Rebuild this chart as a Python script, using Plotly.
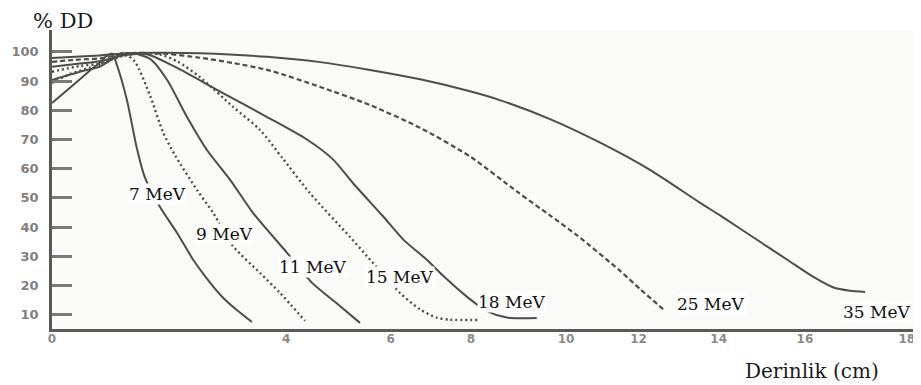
import plotly.graph_objects as go

# ---- data (depth in cm, % depth dose) ----
x_7 = [0, 0.38, 0.80, 1.01, 1.15, 1.27, 1.37, 1.58, 1.79, 1.96, 2.28, 2.64, 2.98, 3.34, 3.61, 3.90, 4.22]
y_7 = [82.5, 87.7, 93.6, 96.4, 98.6, 99.4, 95.5, 83.6, 67.1, 57.0, 46.9, 38.0, 28.8, 20.9, 15.8, 11.6, 7.5]

x_9 = [0, 0.38, 0.80, 1.01, 1.30, 1.50, 1.75, 2.07, 2.34, 2.60, 3.06, 3.40, 3.82, 4.39, 4.81, 5.34]
y_9 = [89.4, 92.4, 94.6, 95.6, 98.4, 99.6, 96.6, 85.0, 72.6, 64.5, 52.7, 44.9, 33.5, 24.3, 17.5, 7.9]

x_11 = [0, 0.59, 1.01, 1.35, 1.65, 2.07, 2.43, 2.85, 3.27, 3.76, 4.24, 4.96, 5.49, 5.97, 6.50]
y_11 = [90.4, 93.2, 95.0, 98.2, 99.6, 97.6, 90.4, 77.7, 66.4, 56.2, 44.9, 31.2, 20.9, 14.4, 7.2]

x_15 = [0, 0.59, 1.01, 1.45, 1.90, 2.30, 2.64, 3.12, 3.82, 4.39, 4.87, 5.44, 6.29, 6.65, 7.34, 7.77, 8.12, 8.40, 9.03]
y_15 = [93.2, 95.2, 96.0, 98.4, 99.6, 99.0, 96.8, 91.4, 81.2, 73.3, 63.5, 51.7, 36.6, 30.0, 17.5, 11.8, 9.0, 8.3, 8.2]

x_18 = [0, 0.59, 1.01, 1.50, 2.00, 2.70, 3.48, 4.54, 5.38, 5.93, 6.35, 6.98, 7.41, 7.91, 8.25, 8.76, 9.18, 9.60, 10.23]
y_18 = [94.9, 96.0, 96.8, 98.8, 99.2, 94.0, 87.0, 77.7, 70.0, 63.2, 55.1, 43.8, 35.8, 28.8, 23.4, 16.1, 11.2, 9.0, 8.9]

x_25 = [0, 0.59, 1.01, 1.65, 2.43, 3.12, 3.82, 4.60, 5.66, 6.71, 7.77, 8.82, 9.81, 10.51, 11.08, 11.99, 12.41, 12.94]
y_25 = [96.6, 97.4, 97.8, 99.6, 99.3, 98.0, 96.2, 93.6, 88.0, 81.8, 74.0, 64.2, 52.2, 44.0, 37.2, 25.0, 18.8, 11.3]

x_35 = [0, 0.59, 1.01, 1.65, 2.40, 3.12, 4.54, 5.66, 6.65, 7.77, 8.82, 9.45, 10.51, 11.56, 12.62, 13.67, 14.10, 14.79, 15.51, 16.06, 16.48, 16.84, 17.16]
y_35 = [97.9, 98.4, 98.8, 99.6, 99.7, 99.5, 98.3, 96.5, 94.0, 90.6, 86.5, 83.5, 77.0, 69.0, 59.6, 48.4, 44.0, 36.6, 28.9, 23.0, 19.4, 18.2, 17.8]

energy_labels = ["7 MeV", "9 MeV", "11 MeV", "15 MeV", "18 MeV", "25 MeV", "35 MeV"]
label_x = [2.22, 3.65, 5.51, 7.34, 9.71, 13.91, 17.41]
label_y = [51.4, 37.7, 26.4, 23.0, 14.4, 13.7, 11.0]

y_tick_values = [10, 20, 30, 40, 50, 60, 70, 80, 90, 100]
x_tick_labels = ["0", "4", "6", "8", "10", "12", "14", "16", "18"]
x_tick_positions = [0, 4.94, 7.15, 8.84, 10.85, 12.38, 14.07, 15.89, 18.04]

series = [
    (x_7, y_7, "solid", 2.0),
    (x_9, y_9, "2px,3px", 2.4),
    (x_11, y_11, "solid", 2.0),
    (x_15, y_15, "2px,3px", 2.4),
    (x_18, y_18, "solid", 2.0),
    (x_25, y_25, "5px,3px", 2.2),
    (x_35, y_35, "solid", 2.0),
]

fig = go.Figure()
for (xs, ys, dash, w), name in zip(series, energy_labels):
    fig.add_trace(go.Scatter(
        x=xs, y=ys, mode="lines", name=name,
        line=dict(color="#4d4d4d", width=w, dash=dash, shape="spline", smoothing=0.7),
        showlegend=False, hoverinfo="skip",
    ))

for txt, lx, ly in zip(energy_labels, label_x, label_y):
    fig.add_annotation(
        x=lx, y=ly, xref="x", yref="y", text=txt, showarrow=False,
        font=dict(family="DejaVu Serif", size=17, color="#111"),
        bgcolor="#ffffff", borderpad=0,
    )

# page offset (browser body margin) and figure geometry
OFF = 8
W, H = 913, 377
ML, MR, MT, MB = 44, 0, 22, 56
pw, ph = W - ML - MR, H - MT - MB

fig.add_annotation(
    x=63, y=8, xref="paper", yref="paper", text="% DD", showarrow=False,
    xanchor="center", yanchor="top", borderpad=0,
    font=dict(family="DejaVu Serif", size=21, color="#1a1a1a"),
)
fig.add_annotation(
    x=812, y=371, xref="paper", yref="paper", text="Derinlik (cm)", showarrow=False,
    xanchor="center", yanchor="middle",
    font=dict(family="DejaVu Serif", size=20, color="#1a1a1a"),
)
for ann in fig.layout.annotations:
    if ann.xref == "paper":
        ann.x = (ann.x - OFF - ML) / pw
        ann.y = 1 - (ann.y - OFF - MT) / ph

fig.update_layout(
    width=W, height=H,
    margin=dict(l=ML, r=MR, t=MT, b=MB),
    paper_bgcolor="#ffffff",
    plot_bgcolor="#fafaf8",
    xaxis=dict(
        range=[0, 18.34], showgrid=False, zeroline=False,
        showline=True, linecolor="#5a5a5a", linewidth=3,
        tickmode="array", tickvals=x_tick_positions, ticktext=x_tick_labels,
        ticks="", ticklabelstandoff=-3,
        tickfont=dict(family="DejaVu Sans", size=12, color="#8a8a8a", weight="bold"),
    ),
    yaxis=dict(
        range=[5.1, 107.5], showgrid=False, zeroline=False,
        showline=True, linecolor="#5a5a5a", linewidth=2.5,
        tickmode="array", tickvals=y_tick_values,
        ticks="inside", ticklen=20, tickwidth=2.5, tickcolor="#7a7a7a",
        ticklabelstandoff=8,
        tickfont=dict(family="DejaVu Sans", size=13, color="#7f7f7f", weight="bold"),
    ),
)

fig.write_html("out.html")
